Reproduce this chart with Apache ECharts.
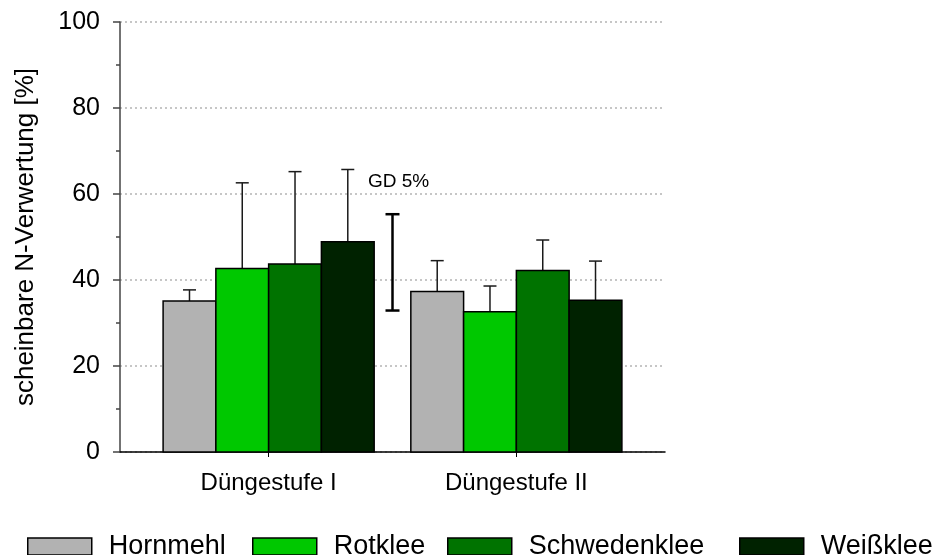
<!DOCTYPE html>
<html>
<head>
<meta charset="utf-8">
<script src="https://cdn.jsdelivr.net/npm/echarts@6/dist/echarts.min.js"></script>
<style>
  html, body { margin: 0; padding: 0; background: #fff; }
  #chart { width: 938px; height: 555px; }
</style>
</head>
<body>
<div id="chart"></div>
<script>
// Groups on the x axis
const categories = ['Düngestufe I', 'Düngestufe II'];

// Mean apparent N utilisation [%] and standard deviation per fertiliser
const hornmehl = [35.1, 37.3];
const hornmehlSd = [2.6, 7.2];
const rotklee = [42.7, 32.6];
const rotkleeSd = [19.9, 6.0];
const schwedenklee = [43.7, 42.2];
const schwedenkleeSd = [21.5, 7.1];
const weissklee = [48.9, 35.3];
const weisskleeSd = [16.8, 9.1];

// Least significant difference (GD 5 %) bar: lower end and length
const gdLow = 32.9;
const gd5 = 22.4;

const seriesNames = ['Hornmehl', 'Rotklee', 'Schwedenklee', 'Weißklee'];
const seriesValues = [hornmehl, rotklee, schwedenklee, weissklee];
const seriesSd = [hornmehlSd, rotkleeSd, schwedenkleeSd, weisskleeSd];
const seriesColors = ['#b2b2b2', '#00c800', '#007300', '#002200'];

const FONT = '"Liberation Sans", Arial, sans-serif';
const BAR_UNITS = 0.213;   // width of one bar in x-axis units
const CAP = 6.5;           // half width of error bar caps

function barRenderer(idx) {
  return function (params, api) {
    const x = api.value(0);
    const v = api.value(1);
    const sd = api.value(2);
    const base = api.coord([x, 0]);
    const top = api.coord([x, v]);
    const errTop = api.coord([x, v + sd]);
    const w = api.size([BAR_UNITS, 0])[0];
    const left = base[0] + (idx - 2) * w;
    const cx = left + w / 2;
    const errStyle = { stroke: '#1a1a1a', lineWidth: 1.5 };
    return {
      type: 'group',
      children: [
        { type: 'line', shape: { x1: cx, y1: top[1], x2: cx, y2: errTop[1] }, style: errStyle },
        { type: 'line', shape: { x1: cx - CAP, y1: errTop[1], x2: cx + CAP, y2: errTop[1] }, style: errStyle },
        {
          type: 'rect',
          shape: { x: left, y: top[1], width: w, height: base[1] - top[1] },
          style: { fill: api.visual('color'), stroke: '#000', lineWidth: 1.5 }
        }
      ]
    };
  };
}

function gdRenderer(params, api) {
  const x = api.value(0);
  const lo = api.coord([x, api.value(1)]);
  const hi = api.coord([x, api.value(1) + api.value(2)]);
  const st = { stroke: '#000', lineWidth: 2.5 };
  return {
    type: 'group',
    children: [
      { type: 'line', shape: { x1: lo[0], y1: lo[1], x2: hi[0], y2: hi[1] }, style: st },
      { type: 'line', shape: { x1: lo[0] - 7, y1: lo[1], x2: lo[0] + 7, y2: lo[1] }, style: st },
      { type: 'line', shape: { x1: hi[0] - 7, y1: hi[1], x2: hi[0] + 7, y2: hi[1] }, style: st },
      {
        type: 'text',
        style: {
          x: hi[0] + 6, y: hi[1] - 32, text: 'GD 5%',
          font: '19px ' + FONT, fill: '#000', align: 'center', verticalAlign: 'middle'
        }
      }
    ]
  };
}

const series = seriesNames.map((name, idx) => ({
  type: 'custom',
  name: name,
  renderItem: barRenderer(idx),
  itemStyle: { color: seriesColors[idx] },
  encode: { x: 0, y: 1 },
  data: categories.map((c, g) => [g + 1, seriesValues[idx][g], seriesSd[idx][g]])
}));

series.push({
  type: 'custom',
  name: 'GD 5%',
  renderItem: gdRenderer,
  encode: { x: 0, y: 1 },
  data: [[1.5, gdLow, gd5]],
  z: 3
});

const legendLefts = [27, 252, 447, 739];
const legends = seriesNames.map((name, idx) => ({
  data: [name],
  left: legendLefts[idx],
  top: 533,
  padding: 0,
  itemWidth: 64,
  itemHeight: 17,
  icon: 'rect',
  selectedMode: false,
  itemStyle: { borderColor: '#000', borderWidth: 1.5 },
  textStyle: { fontFamily: FONT, fontSize: 27, color: '#000', padding: [0, 0, 0, 12] }
}));

const chart = echarts.init(document.getElementById('chart'), null, { renderer: 'canvas' });
chart.setOption({
  animation: false,
  backgroundColor: '#fff',
  legend: legends,
  grid: { left: 120, right: 273, top: 22, bottom: 103, containLabel: false },
  xAxis: {
    type: 'value',
    min: 0.4,
    max: 2.6,
    splitLine: { show: false },
    axisLine: { show: true, lineStyle: { color: '#000', width: 1.5 } },
    axisTick: { show: true, customValues: [1, 2], length: 5, lineStyle: { color: '#000', width: 1 } },
    axisLabel: {
      customValues: [1, 2],
      formatter: v => categories[Math.round(v) - 1],
      margin: 19,
      fontFamily: FONT, fontSize: 24, color: '#000'
    }
  },
  yAxis: {
    type: 'value',
    min: 0,
    max: 100,
    interval: 20,
    name: 'scheinbare N-Verwertung [%]',
    nameLocation: 'middle',
    nameGap: 81,
    nameTextStyle: { fontFamily: FONT, fontSize: 26, color: '#000' },
    axisLine: { show: true, lineStyle: { color: '#444', width: 1.5 } },
    axisTick: { show: true, length: 7, lineStyle: { color: '#444', width: 1.5 } },
    minorTick: { show: true, splitNumber: 2, length: 4, lineStyle: { color: '#444', width: 1.5 } },
    axisLabel: { margin: 20, fontFamily: FONT, fontSize: 25, color: '#000' },
    splitLine: { show: true, lineStyle: { color: '#b4b4b4', width: 1.5, type: [2, 3] } }
  },
  series: series
});
</script>
</body>
</html>
